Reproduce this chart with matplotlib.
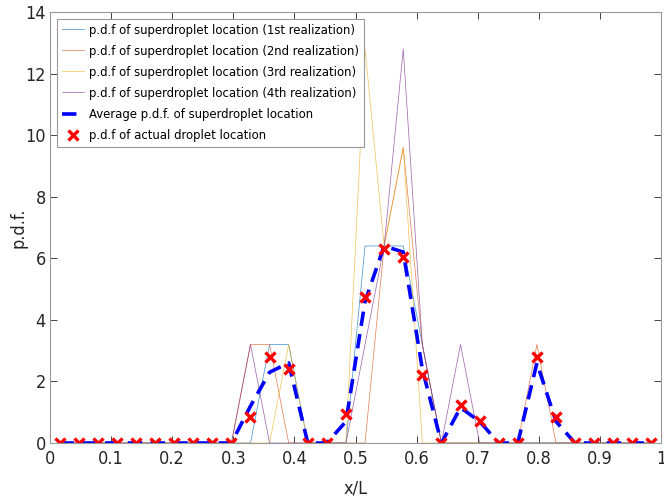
import numpy as np
import matplotlib
matplotlib.use("Agg")
import matplotlib.pyplot as plt

plt.rcParams['font.family'] = ['DejaVu Sans']
plt.rcParams['font.stretch'] = 'condensed'

# 32 bins on [0, 1], values are read at bin centres
n_bins = 32
x = (np.arange(n_bins) + 0.5) / n_bins

# p.d.f. of superdroplet location, four realizations (bins 0..31)
real1 = [0, 0, 0, 0, 0, 0, 0, 0, 0, 0, 0, 3.2, 3.2, 0, 0, 0,
         6.4, 6.4, 6.4, 3.2, 0, 0, 0, 0, 0, 0, 0, 0, 0, 0, 0, 0]
real2 = [0, 0, 0, 0, 0, 0, 0, 0, 0, 0, 3.2, 3.2, 0, 0, 0, 0,
         0, 6.4, 9.6, 3.2, 0, 0, 0, 0, 0, 3.2, 0, 0, 0, 0, 0, 0]
real3 = [0, 0, 0, 0, 0, 0, 0, 0, 0, 0, 0, 0, 3.2, 0, 0, 0,
         12.8, 6.4, 9.6, 0, 0, 0, 0, 0, 0, 0, 0, 0, 0, 0, 0, 0]
real4 = [0, 0, 0, 0, 0, 0, 0, 0, 0, 0, 3.2, 0, 0, 0, 0, 0,
         3.2, 6.4, 12.8, 3.2, 0, 3.2, 0, 0, 0, 0, 0, 0, 0, 0, 0, 0]

# average p.d.f. of superdroplet location
avg_pdf = [0, 0, 0, 0, 0, 0, 0, 0, 0, 0, 1.2, 2.3, 2.6, 0, 0, 0.7,
           4.6, 6.4, 6.2, 2.4, 0, 1.15, 0.7, 0, 0, 2.6, 0.7, 0, 0, 0, 0, 0]

# p.d.f. of actual droplet location
actual_pdf = [0, 0, 0, 0, 0, 0, 0, 0, 0, 0, 0.85, 2.8, 2.4, 0, 0, 0.95,
              4.75, 6.3, 6.05, 2.2, 0, 1.25, 0.7, 0, 0, 2.8, 0.85, 0, 0, 0, 0, 0]

labels = ['p.d.f of superdroplet location (1st realization)',
          'p.d.f of superdroplet location (2nd realization)',
          'p.d.f of superdroplet location (3rd realization)',
          'p.d.f of superdroplet location (4th realization)',
          'Average p.d.f. of superdroplet location',
          'p.d.f of actual droplet location']

colors = ['#0072bd', '#d95319', '#edb120', '#7e2f8e']

fig = plt.figure(figsize=(6.64, 4.99), dpi=100)
ax = fig.add_axes([0.0753, 0.1122, 0.9202, 0.8638])

for r, c, lab in zip([real1, real2, real3, real4], colors, labels[:4]):
    ax.plot(x, r, color=c, lw=0.55, alpha=0.7, label=lab)

ax.plot(x, avg_pdf, color='blue', lw=2.6, ls=(0, (4, 2.3)), label=labels[4])
ax.plot(x, actual_pdf, ls='none', marker='x', color='red', ms=6.5, mew=2.4,
        label=labels[5])

ax.set_xlim(0, 1)
ax.set_ylim(0, 14)
ax.set_xticks(np.arange(0, 1.01, 0.1))
ax.set_xticklabels(['0', '0.1', '0.2', '0.3', '0.4', '0.5', '0.6', '0.7', '0.8', '0.9', '1'])
ax.set_yticks(np.arange(0, 15, 2))
ax.tick_params(direction='in', top=True, right=True, labelsize=13,
               colors='#262626', length=5, width=0.6)
ax.tick_params(axis='x', pad=5)
ax.tick_params(axis='y', pad=3)
for s in ax.spines.values():
    s.set_color('#999999')
    s.set_linewidth(0.8)
ax.set_xlabel('x/L', fontsize=13, color='#262626', labelpad=8)
ax.set_ylabel('p.d.f.', fontsize=13, color='#262626', labelpad=-2)

leg = ax.legend(loc='upper left', fontsize=9.4, handlelength=1.7, handletextpad=0.4,
                borderpad=0.4, labelspacing=0.62, fancybox=False, framealpha=1,
                borderaxespad=0.5)
leg.get_frame().set_edgecolor('#999999')
leg.get_frame().set_linewidth(0.8)

fig.savefig('out.png', dpi=100)
